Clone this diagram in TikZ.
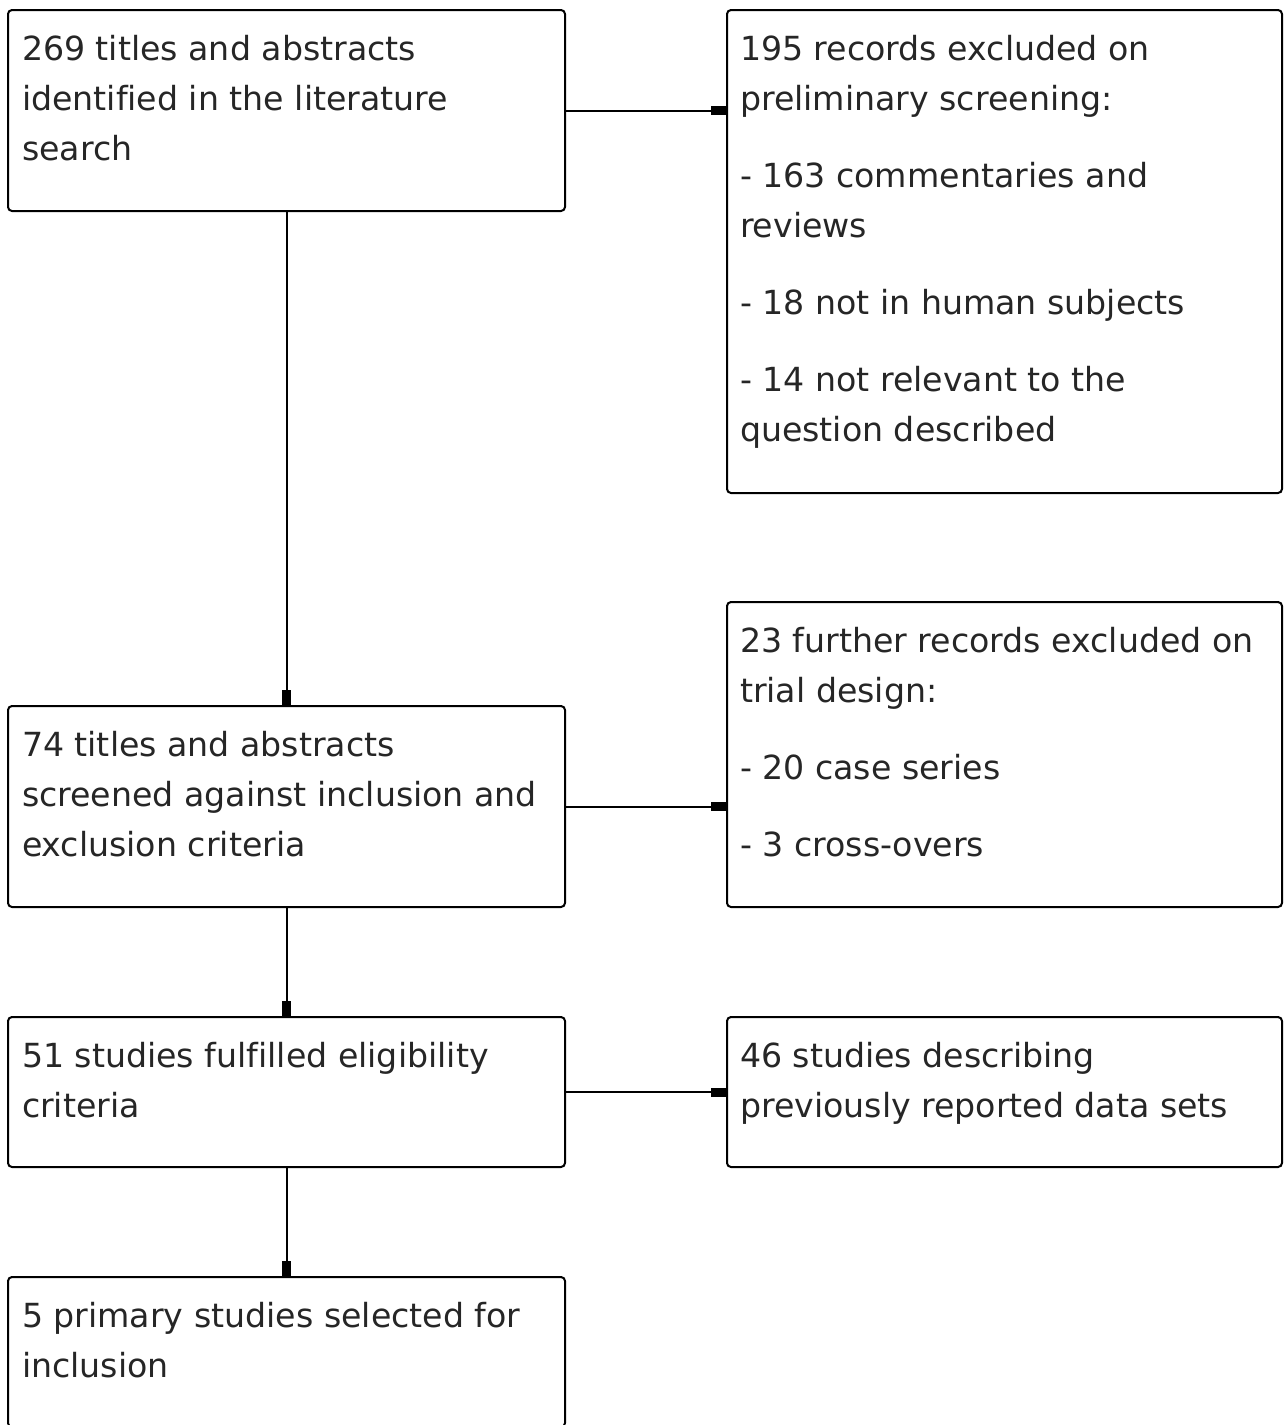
\documentclass[tikz,border=0pt]{standalone}
\usepackage{fontspec}
\setmainfont[Ligatures=NoCommon]{DejaVu Sans}
\usetikzlibrary{arrows.meta,calc}
\begin{document}
\begin{tikzpicture}[x=0.5pt,y=-0.5pt,
  box/.style={draw=black, line width=1pt, rounded corners=2pt, inner sep=0pt, outer sep=0pt, anchor=north west},
  lbox/.style={box, minimum width=278.5pt},
  rbox/.style={box, minimum width=277.5pt},
  txt/.style={anchor=north west, inner sep=0pt, outer sep=0pt, align=left, text=black!85,
    font=\fontsize{16.6}{25}\selectfont},
  arr/.style={line width=1pt, -{Rectangle[length=8pt,width=4.5pt]}}]
\useasboundingbox (0,0) rectangle (1284,1425);
\fill[white] (0,0) rectangle (1284,1425);
% boxes
\node[lbox, minimum height=100.5pt] (A) at (8,10) {};
\node[rbox, minimum height=241.5pt] (B) at (727,10) {};
\node[lbox, minimum height=100.5pt] (C) at (8,706) {};
\node[rbox, minimum height=152.5pt] (D) at (727,602) {};
\node[lbox, minimum height=75pt] (E) at (8,1017) {};
\node[rbox, minimum height=75pt] (F) at (727,1017) {};
\node[lbox, minimum height=75pt] (G) at (8,1277) {};
% texts
\node[txt] (tA) at ($(A.north west)+(14,24.8)$) {269 titles and abstracts\\identified in the literature\\search};
\node[txt] (tB) at ($(B.north west)+(13,24.8)$) {195 records excluded on\\preliminary screening:\\[13.5pt]- 163 commentaries and\\reviews\\[13.5pt]- 18 not in human subjects\\[13.5pt]- 14 not relevant to the\\question described};
\node[txt] (tC) at ($(C.north west)+(14,24.8)$) {74 titles and abstracts\\screened against inclusion and\\exclusion criteria};
\node[txt] (tD) at ($(D.north west)+(13,24.8)$) {23 further records excluded on\\trial design:\\[13.5pt]- 20 case series\\[13.5pt]- 3 cross-overs};
\node[txt] (tE) at ($(E.north west)+(14,24.8)$) {51 studies fulfilled eligibility\\criteria};
\node[txt] (tF) at ($(F.north west)+(13,24.8)$) {46 studies describing\\previously reported data sets};
\node[txt] (tG) at ($(G.north west)+(14,24.8)$) {5 primary studies selected for\\inclusion};
% connectors
\draw[arr] (A.east) -- (A.east -| B.west);
\draw[arr] (C.east) -- (C.east -| D.west);
\draw[arr] (E.east) -- (E.east -| F.west);
\draw[arr] (A.south) -- (C.north);
\draw[arr] (C.south) -- (E.north);
\draw[arr] (E.south) -- (G.north);
\end{tikzpicture}
\end{document}
